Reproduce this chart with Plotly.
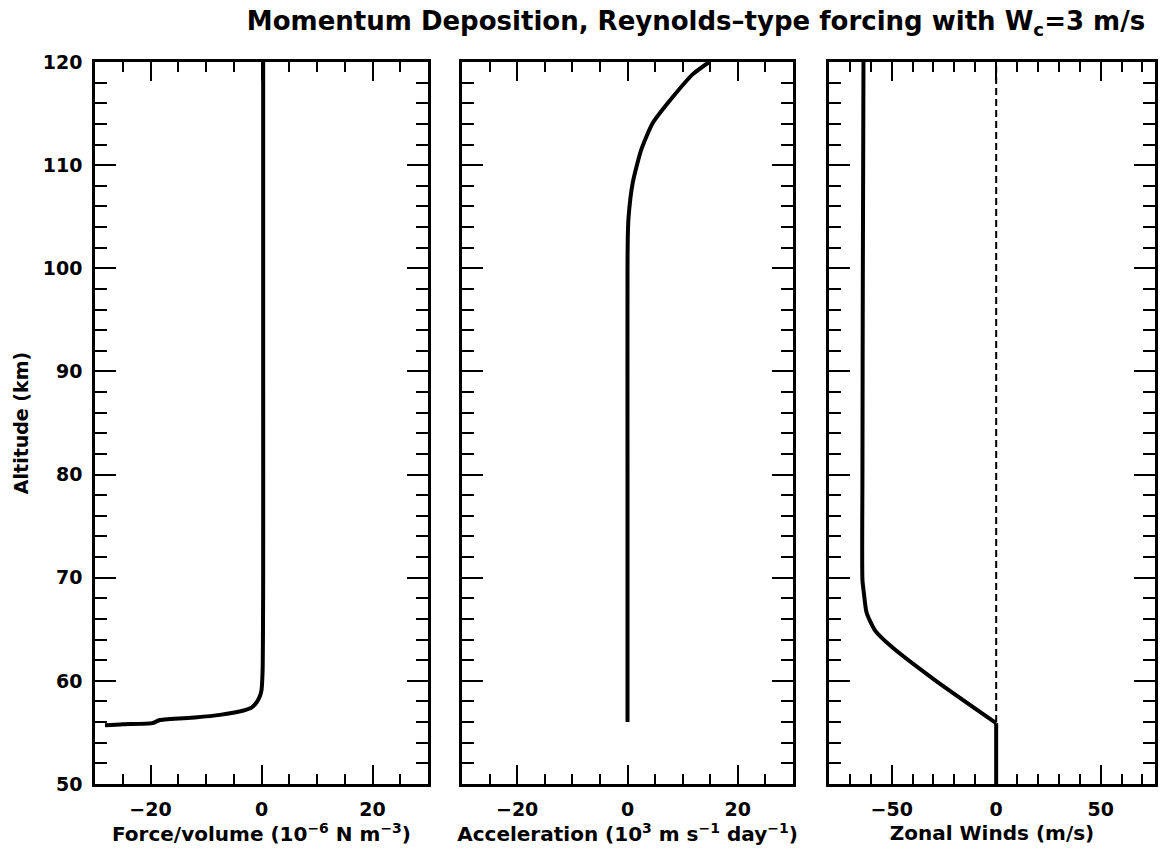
import plotly.graph_objects as go

# ---- profile data -------------------------------------------------------
# Force per volume (10^-6 N m^-3) versus altitude (km)
force_alt = [55.7, 55.8, 55.9, 56.2, 56.45, 56.7, 57.1, 57.4, 57.9, 58.5, 59.1, 61.0, 70.0, 90.0, 120.0]
force_val = [-28.2, -25.0, -19.7, -18.3, -12.0, -7.5, -3.4, -1.8, -0.9, -0.3, 0.0, 0.2, 0.3, 0.3, 0.3]

# Acceleration (10^3 m s^-1 day^-1) versus altitude (km)
accel_alt = [56.0, 80.0, 100.0, 103.0, 105.0, 108.3, 111.5, 114.1, 116.6, 118.8, 120.0]
accel_val = [0.0, 0.0, 0.0, 0.05, 0.2, 0.95, 2.5, 4.6, 8.2, 11.8, 14.8]

# Zonal wind (m/s) versus altitude (km); index 1 is the wind-onset level
wind_alt = [50.0, 55.9, 60.1, 63.3, 64.9, 66.6, 68.5, 69.8, 80.0, 100.0, 120.0]
wind_val = [0.0, 0.0, -29.5, -50.0, -58.0, -62.0, -63.3, -64.0, -64.0, -63.8, -63.5]
ONSET = 1

# Reference zero-wind line
zero_alt = [56.0, 120.0]
zero_val = [0.0, 0.0]

TITLE = "Momentum Deposition, Reynolds–type forcing with W<sub>c</sub>=3 m/s"
XTITLES = [
    "Force/volume (10<sup>−6</sup> N m<sup>−3</sup>)",
    "Acceleration (10<sup>3</sup> m s<sup>−1</sup> day<sup>−1</sup>)",
    "Zonal Winds (m/s)",
]
Y_TITLE = "Altitude (km)"

# ---- figure ----------------------------------------------------------------
W, H = 1161, 849
FONT = "DejaVu Sans"

fig = go.Figure()

line_style = dict(color="black", width=4, shape="spline", smoothing=0.6)
fig.add_trace(go.Scatter(x=force_val, y=force_alt, mode="lines", line=line_style,
                         xaxis="x", yaxis="y", showlegend=False))
fig.add_trace(go.Scatter(x=accel_val, y=accel_alt, mode="lines", line=line_style,
                         xaxis="x2", yaxis="y2", showlegend=False))
fig.add_trace(go.Scatter(x=zero_val, y=zero_alt, mode="lines",
                         line=dict(color="black", width=2, dash="7px,4px"),
                         xaxis="x3", yaxis="y3", showlegend=False))
# calm layer below the onset level
fig.add_trace(go.Scatter(x=wind_val[:ONSET + 1], y=wind_alt[:ONSET + 1], mode="lines",
                         line=dict(color="black", width=4),
                         xaxis="x3", yaxis="y3", showlegend=False))
# wind profile above the onset level
fig.add_trace(go.Scatter(x=wind_val[ONSET:], y=wind_alt[ONSET:], mode="lines",
                         line=line_style, xaxis="x3", yaxis="y3", showlegend=False))

ydom = [1 - 784 / H, 1 - 62 / H]
xdoms = [[95 / W, 428 / W], [462 / W, 793 / W], [829 / W, 1155 / W]]
xranges = [[-30, 30], [-30, 30], [-80, 76]]
xdticks = [20, 20, 50]
xminor = [5, 5, 10]

tickfont = dict(family=FONT, size=19, color="black", weight="bold")
titlefont = dict(family=FONT, size=20, color="black", weight="bold")

common = dict(
    showline=True, linecolor="black", linewidth=2.5, mirror="ticks",
    ticks="inside", tickcolor="black", tickwidth=2, ticklen=19,
    showgrid=False, zeroline=False, tickfont=tickfont, automargin=False,
)

layout = dict(
    width=W, height=H,
    margin=dict(l=0, r=0, t=0, b=0, autoexpand=False),
    paper_bgcolor="white", plot_bgcolor="white",
    title=dict(text=TITLE, x=696 / W, xanchor="center", y=1 - 21 / H, yanchor="middle",
               font=dict(family=FONT, size=26, color="black", weight="bold")),
)

for i in range(3):
    sx = "" if i == 0 else str(i + 1)
    layout["xaxis" + sx] = dict(
        common, domain=xdoms[i], range=xranges[i], anchor="y" + sx,
        tick0=0, dtick=xdticks[i],
        minor=dict(ticks="inside", dtick=xminor[i], tick0=0, ticklen=10,
                   tickwidth=2, tickcolor="black", showgrid=False),
        ticklabelstandoff=6,
        title=dict(text=XTITLES[i], font=titlefont, standoff=8),
    )
    layout["yaxis" + sx] = dict(
        common, domain=ydom, range=[50, 120], anchor="x" + sx,
        tick0=0, dtick=10, ticklen=21,
        minor=dict(ticks="inside", dtick=2, tick0=0, ticklen=12,
                   tickwidth=2, tickcolor="black", showgrid=False),
        showticklabels=(i == 0),
        ticklabelstandoff=6,
    )

layout["yaxis"]["title"] = dict(text=Y_TITLE, font=dict(titlefont, size=19), standoff=10)

fig.update_layout(**layout)
fig.write_html("out.html")
